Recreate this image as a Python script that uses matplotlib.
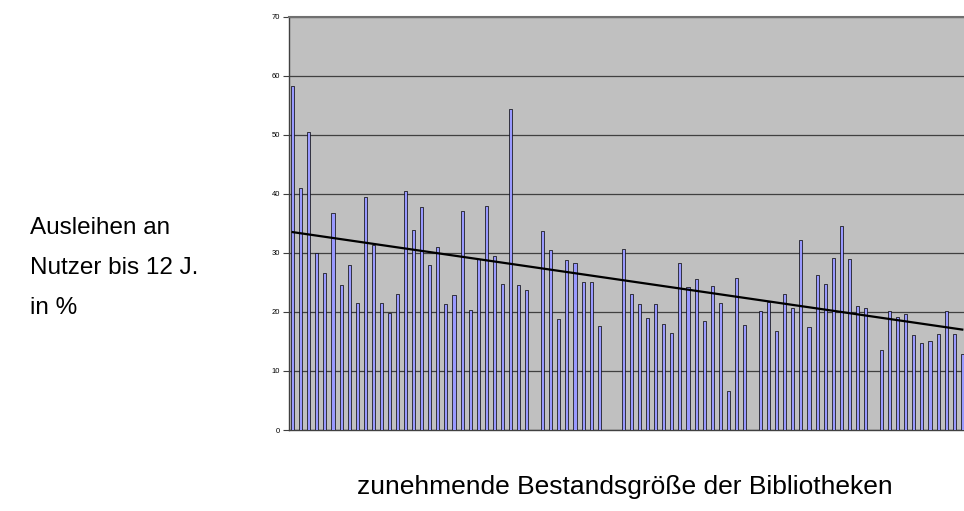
import matplotlib
matplotlib.use("Agg")
import matplotlib.pyplot as plt
import numpy as np

plt.rcParams['font.family'] = ['Liberation Sans', 'DejaVu Sans']

# Ausleihen an Nutzer bis 12 J. in %, Bibliotheken nach zunehmender Bestandsgröße
# (None = keine Angabe)
werte = [58.3, 41.0, 50.5, 29.9, 26.5, 36.8, 24.5, 27.9, 21.5, 39.5,
         31.3, 21.5, 19.8, 23.1, 40.4, 33.9, 37.8, 28.0, 30.9, 21.3,
         22.8, 37.1, 20.3, 28.9, 38.0, 29.5, 24.7, 54.3, 24.6, 23.7,
         None, 33.7, 30.5, 18.8, 28.8, 28.2, 25.0, 25.0, 17.6, None,
         None, 30.7, 23.1, 21.3, 18.9, 21.4, 18.0, 16.5, 28.2, 24.2,
         25.6, 18.4, 24.4, 21.5, 6.6, 25.8, 17.7, None, 20.2, 21.7,
         16.8, 23.1, 20.7, 32.1, 17.4, 26.3, 24.8, 29.1, 34.5, 28.9,
         21.0, 20.6, None, 13.5, 20.2, 19.2, 19.6, 16.1, 14.7, 15.0,
         16.2, 20.2, 16.3, 12.9]

# linearer Trend (Anfangs- und Endwert)
trend = [33.5, 17.0]

y_ticks = [0, 10, 20, 30, 40, 50, 60, 70]

x = np.arange(1, len(werte) + 1)
y = np.array([np.nan if v is None else v for v in werte])
ok = ~np.isnan(y)

fig = plt.figure(figsize=(9.64, 5.11), dpi=100)
ax = fig.add_axes([0.2994, 0.1585, 0.703, 0.8092])
ax.set_facecolor('#c0c0c0')

ax.bar(x[ok], y[ok], width=0.38, color='#9999ff', edgecolor='black', linewidth=0.5, zorder=3)

ax.plot([x[0], x[-1]], trend, color='black', linewidth=1.6, zorder=4)

ax.set_xlim(0.5, len(werte) + 0.5)
ax.set_ylim(0, 70)
ax.set_yticks(y_ticks)
ax.set_yticklabels([str(t) for t in y_ticks], fontsize=5.5)
ax.set_xticks([])
ax.yaxis.grid(True, color='#404040', linewidth=0.9, zorder=1)
ax.set_axisbelow(True)
ax.tick_params(axis='y', length=4, width=0.8, pad=2, color='#404040')
for s in ['left', 'bottom']:
    ax.spines[s].set_color('#404040')
    ax.spines[s].set_linewidth(1.0)
ax.spines['top'].set_color('#707070')
ax.spines['top'].set_linewidth(1.5)
ax.spines['right'].set_visible(False)

fig.text(30 / 964, 1 - 228 / 511, 'Ausleihen an', fontsize=17.5, va='center', ha='left')
fig.text(30 / 964, 1 - 268 / 511, 'Nutzer bis 12 J.', fontsize=17.5, va='center', ha='left')
fig.text(30 / 964, 1 - 308 / 511, 'in %', fontsize=17.5, va='center', ha='left')
fig.text(625 / 964, 1 - 487 / 511, 'zunehmende Bestandsgröße der Bibliotheken',
         fontsize=19, va='center', ha='center')

fig.savefig('out.png', dpi=100)
